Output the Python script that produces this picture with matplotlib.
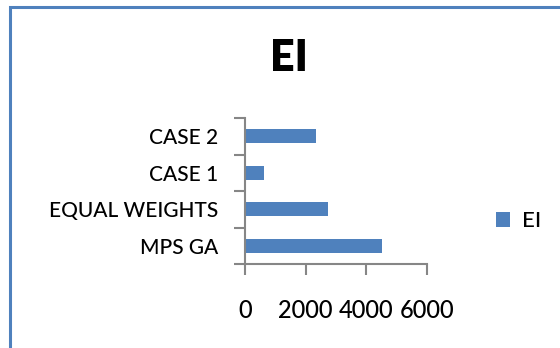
import matplotlib
matplotlib.use("Agg")
import matplotlib.pyplot as plt
from matplotlib.patches import Rectangle
import numpy as np

# データ
categories = ["MPS GA", "EQUAL WEIGHTS", "CASE 1", "CASE 2"]
ei_values = [4520, 2750, 640, 2340]
x_ticks = [0, 2000, 4000, 6000]
series_name = "EI"

bar_color = "#4F81BD"
axis_color = "#868686"

plt.rcParams["font.family"] = ["Lato", "DejaVu Sans"]
plt.rcParams["font.weight"] = 500

fig = plt.figure(figsize=(5.6, 3.48), dpi=100)
fig.patch.set_facecolor("white")

# 外枠 (右と下ははみ出す)
fig.patches.append(Rectangle((10 / 560, -0.1), 1.2, 1 - 7 / 348 + 0.1,
                             transform=fig.transFigure, fill=False,
                             edgecolor=bar_color, linewidth=2.2, clip_on=False))

ax = fig.add_axes([245 / 560, 1 - 264 / 348, (426.7 - 245) / 560, (264 - 118) / 348])

y = np.arange(len(categories))
ax.barh(y, ei_values, height=0.37, color=bar_color, label=series_name)

ax.set_xlim(0, 6000)
ax.set_ylim(-0.5, len(categories) - 0.5)

# 軸まわり
for side in ["top", "right"]:
    ax.spines[side].set_visible(False)
for side in ["left", "bottom"]:
    ax.spines[side].set_color(axis_color)
    ax.spines[side].set_linewidth(1.5)

ax.set_xticks(x_ticks)
ax.set_xticklabels([str(v) for v in x_ticks], fontsize=17)
ax.tick_params(axis="x", direction="out", length=8, width=1.5, color=axis_color, pad=17)

# カテゴリ境界に目盛り、ラベルは中央
ax.set_yticks(np.arange(-0.5, len(categories), 1.0))
ax.set_yticklabels([])
ax.set_yticks(y, minor=True)
ax.set_yticklabels(categories, minor=True, fontsize=15)
ax.tick_params(axis="y", which="major", direction="out", length=8, width=1.5, color=axis_color)
ax.tick_params(axis="y", which="minor", length=0, pad=19.5)

fig.text(289 / 560, 1 - 58 / 348, "EI", ha="center", va="center",
         fontsize=31, fontweight="heavy")

ax.legend(loc="center left", bbox_to_anchor=(496 / 560, 1 - 221 / 348),
          bbox_transform=fig.transFigure, frameon=False, fontsize=16,
          borderpad=0, borderaxespad=0, handlelength=0.65, handleheight=0.65,
          handletextpad=0.5)

fig.savefig("out.png", dpi=100)
